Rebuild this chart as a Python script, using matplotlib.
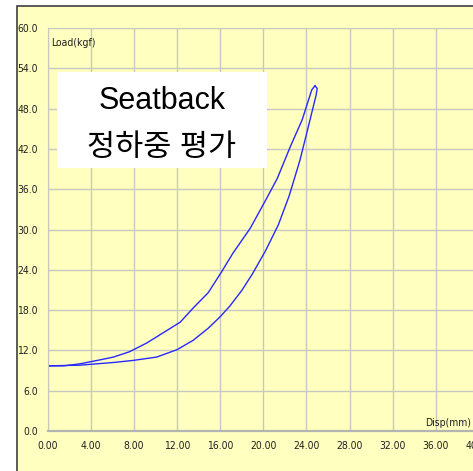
import matplotlib
matplotlib.use("Agg")
import matplotlib.pyplot as plt
from matplotlib.patches import Rectangle

# load-displacement loop, seatback static load test
disp_load = [0.0, 1.5, 3.0, 4.9, 6.1, 7.6, 9.2, 10.7, 12.3, 13.5, 14.9, 16.1, 17.2,
             18.8, 20.2, 21.3, 22.5, 23.6, 24.5, 24.8]
load_load = [9.7, 9.7, 10.0, 10.6, 11.0, 11.8, 13.1, 14.6, 16.2, 18.3, 20.6, 23.6, 26.5,
             30.2, 34.3, 37.6, 42.3, 46.3, 50.8, 51.4]
disp_unload = [24.8, 25.0, 24.9, 24.1, 23.4, 22.4, 21.4, 20.2, 19.0, 18.0, 16.9, 16.0,
               14.9, 13.5, 12.0, 10.1, 7.9, 6.1, 3.0, 0.0]
load_unload = [51.4, 51.0, 50.0, 44.8, 40.3, 35.0, 30.7, 26.8, 23.4, 20.9, 18.6, 17.0,
               15.3, 13.5, 12.1, 11.0, 10.5, 10.2, 9.8, 9.7]

x_ticks = [0, 4, 8, 12, 16, 20, 24, 28, 32, 36, 40]
y_ticks = [0, 6, 12, 18, 24, 30, 36, 42, 48, 54, 60]

W, H = 473, 471
BG = "#ffffc0"
TICK_FONT = ["Liberation Sans Narrow", "DejaVu Sans"]
TICK_KW = dict(family=TICK_FONT, fontsize=7.5, stretch="condensed")

fig = plt.figure(figsize=(W / 100, H / 100), dpi=100)
fig.patch.set_facecolor("white")

# yellow panel with dark left/top border
fig.patches.append(Rectangle((16.5 / W, -0.1), 1.2, 1.1 - 5.5 / H,
                             transform=fig.transFigure, facecolor=BG,
                             edgecolor="#404040", lw=1.2, zorder=-1))

ax = fig.add_axes([47.5 / W, 40 / H, 431.5 / W, 403 / H])
ax.set_facecolor("none")
ax.set_xlim(0, 40)
ax.set_ylim(0, 60)
ax.set_xticks(x_ticks)
ax.set_yticks(y_ticks)
ax.set_xticklabels([f"{v:.2f}" for v in x_ticks], **TICK_KW)
ax.set_yticklabels([f"{v:.1f}" for v in y_ticks], **TICK_KW)
ax.tick_params(length=0, pad=7, colors="#202020")
ax.grid(color="#c8c8c0", lw=1.0)
ax.set_axisbelow(True)
for s in ("top", "right"):
    ax.spines[s].set_visible(False)
ax.spines["left"].set_color("#c8c8c0")
ax.spines["bottom"].set_color("#b4b4b0")
ax.spines["bottom"].set_linewidth(1.6)

ax.plot(disp_load, load_load, color="#2828ff", lw=1.0)
ax.plot(disp_unload, load_unload, color="#2828ff", lw=1.0)

fig.text(51 / W, 1 - 43 / H, "Load(kgf)", va="center", ha="left", color="#202020",
         **TICK_KW)
fig.text(471 / W, 1 - 423 / H, "Disp(mm)", va="center", ha="right", color="#202020",
         **TICK_KW)

# title box
fig.patches.append(Rectangle((57 / W, 1 - 168 / H), 210 / W, 96 / H,
                             transform=fig.transFigure, facecolor="white",
                             edgecolor="none", zorder=5))
title_font = ["Liberation Sans", "Noto Sans CJK KR", "DejaVu Sans"]
fig.text(162 / W, 1 - 101 / H, "Seatback", family=title_font, fontsize=22,
         ha="center", va="center", zorder=6)
fig.text(162 / W, 1 - 148 / H, "정하중 평가", family=title_font, fontsize=22,
         ha="center", va="center", zorder=6)

fig.savefig("out.png", dpi=100)
